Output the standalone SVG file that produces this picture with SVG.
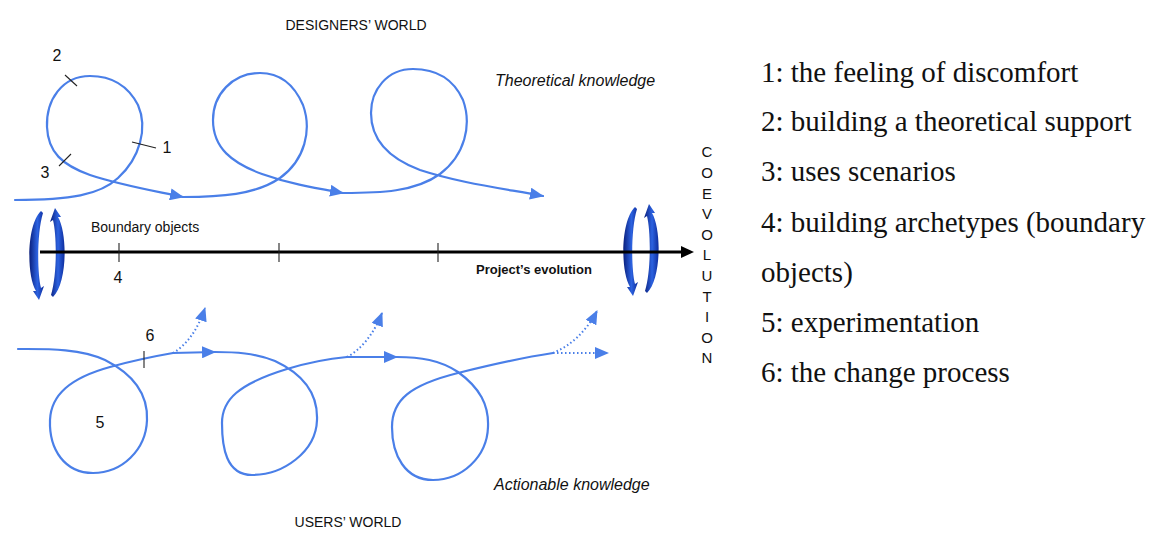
<svg xmlns="http://www.w3.org/2000/svg" width="1150" height="534" viewBox="0 0 1150 534">
<style>
.loop{fill:none;stroke:#4a7fe8;stroke-width:2.2;stroke-linecap:round}
.dot{fill:none;stroke:#4a7fe8;stroke-width:2;stroke-dasharray:1.5 2.5}
.tick{stroke:#222;stroke-width:1.1}
.sans{font-family:"Liberation Sans",Arial,sans-serif;fill:#111}
.num{font-family:"Liberation Sans",Arial,sans-serif;font-size:16px;fill:#111}
.ital{font-family:"Liberation Sans",Arial,sans-serif;font-size:16px;font-style:italic;fill:#111}
.leg{font-family:"Liberation Serif","Times New Roman",serif;font-size:29px;fill:#111}
.coev{font-family:"Liberation Sans",Arial,sans-serif;font-size:15px;fill:#111;text-anchor:middle}
</style>
<defs>
<marker id="ab" viewBox="0 0 14 12" refX="13" refY="6" markerWidth="14" markerHeight="12" markerUnits="userSpaceOnUse" orient="auto">
<path d="M0,0 L14,6 L0,12 Z" fill="#4a7fe8"/>
</marker>
<linearGradient id="cg" x1="0" y1="0" x2="1" y2="0">
<stop offset="0" stop-color="#0a1f7c"/>
<stop offset="0.55" stop-color="#2c62e0"/>
<stop offset="1" stop-color="#0d2c9c"/>
</linearGradient>
<g id="cycle">
<path d="M-6,-43 C-20,-30 -21,20 -11,37 L-14,37 L-8,46 L-3,32 L-6,34 C-10,18 -10,-22 -4,-41 Z" fill="url(#cg)"/>
<path d="M6,43 C20,30 21,-20 11,-37 L14,-37 L8,-46 L3,-32 L6,-34 C10,-18 10,22 4,41 Z" fill="url(#cg)"/>
</g>
</defs>

<g id="titles">
<text class="sans" x="356" y="30" font-size="14" text-anchor="middle">DESIGNERS’ WORLD</text>
<text class="sans" x="348" y="527" font-size="14" text-anchor="middle">USERS’ WORLD</text>
<text class="ital" x="495" y="86">Theoretical knowledge</text>
<text class="ital" x="494" y="490">Actionable knowledge</text>
</g>

<g id="designers-loop">
<path class="loop" marker-end="url(#ab)" d="M15,200 C70,200 100,195 118,178 C140,158 148,128 138,105 C126,82 108,76 90,76 C62,76 46,100 47,127 C48,152 62,165 90,175 C120,185 150,190 183,197"/>
<path class="loop" marker-end="url(#ab)" d="M183,197 C220,197 255,195 280,178 C305,160 312,130 303,105 C293,82 278,73 260,73 C232,73 213,95 213,120 C213,148 232,163 262,174 C290,184 315,188 343,193"/>
<path class="loop" marker-end="url(#ab)" d="M343,193 C380,193 415,192 440,174 C465,155 472,125 463,100 C453,78 435,69 413,69 C387,69 371,90 371,113 C371,140 388,158 420,170 C460,183 500,188 543,196"/>
<line class="tick" x1="65" y1="75" x2="77" y2="86"/>
<line class="tick" x1="132" y1="142" x2="156" y2="148"/>
<line class="tick" x1="59" y1="166" x2="71" y2="154"/>
<text class="num" x="57" y="61" text-anchor="middle">2</text>
<text class="num" x="167" y="153" text-anchor="middle">1</text>
<text class="num" x="45" y="178" text-anchor="middle">3</text>
</g>

<g id="users-loop">
<path class="loop" d="M18,349 C45,349 80,348 105,360 C135,375 148,395 147,420 C146,450 122,473 93,473 C65,473 49,450 50,420 C51,395 70,378 110,367 C135,360 150,357 173,353"/>
<path class="loop" marker-end="url(#ab)" d="M173,353 L215,352"/>
<path class="dot" marker-end="url(#ab)" d="M173,353 C185,346 197,332 205,308"/>
<path class="loop" d="M215,352 C235,352 255,353 275,361 C305,375 318,395 317,420 C316,452 283,475 252,475 C226,475 222,447 222,423 C222,400 238,384 287,369 C310,362 325,359 347,357"/>
<path class="loop" marker-end="url(#ab)" d="M347,357 L397,357"/>
<path class="dot" marker-end="url(#ab)" d="M347,357 C360,350 373,336 382,313"/>
<path class="loop" d="M397,357 C420,357 440,360 458,372 C480,388 489,405 488,427 C487,457 462,480 433,480 C405,480 392,455 392,427 C392,400 410,385 458,373 C490,365 520,358 553,353"/>
<path class="dot" marker-end="url(#ab)" d="M553,353 L608,353"/>
<path class="dot" marker-end="url(#ab)" d="M553,353 C570,346 586,332 597,311"/>
<line class="tick" x1="144" y1="351" x2="144" y2="368"/>
<text class="num" x="150" y="341" text-anchor="middle">6</text>
<text class="num" x="100" y="428" text-anchor="middle">5</text>
</g>

<g id="cycle-left">
<use href="#cycle" x="47" y="254"/>
</g>
<g id="cycle-right">
<use href="#cycle" x="641" y="250"/>
</g>

<g id="axis">
<line x1="40" y1="252" x2="683" y2="252" stroke="#000" stroke-width="3"/>
<polygon points="681,246 694,252 681,258" fill="#000"/>
<line class="tick" x1="119" y1="243" x2="119" y2="262"/>
<line class="tick" x1="279" y1="243" x2="279" y2="262"/>
<line class="tick" x1="438" y1="243" x2="438" y2="262"/>
<text class="sans" x="91" y="232" font-size="14">Boundary objects</text>
<text class="num" x="118" y="283" text-anchor="middle">4</text>
<text class="sans" x="476" y="274" font-size="13" font-weight="bold">Project’s evolution</text>
</g>

<g id="coevolution">
<text class="coev" x="707" y="157">C</text>
<text class="coev" x="707" y="178">O</text>
<text class="coev" x="707" y="199">E</text>
<text class="coev" x="707" y="219">V</text>
<text class="coev" x="707" y="240">O</text>
<text class="coev" x="707" y="260">L</text>
<text class="coev" x="707" y="281">U</text>
<text class="coev" x="707" y="302">T</text>
<text class="coev" x="707" y="322">I</text>
<text class="coev" x="707" y="343">O</text>
<text class="coev" x="707" y="363">N</text>
</g>

<g id="legend">
<text class="leg" x="761" y="82">1: the feeling of discomfort</text>
<text class="leg" x="761" y="131">2: building a theoretical support</text>
<text class="leg" x="761" y="181">3: uses scenarios</text>
<text class="leg" x="761" y="232">4: building archetypes (boundary</text>
<text class="leg" x="761" y="282">objects)</text>
<text class="leg" x="761" y="332">5: experimentation</text>
<text class="leg" x="761" y="382">6: the change process</text>
</g>
</svg>
